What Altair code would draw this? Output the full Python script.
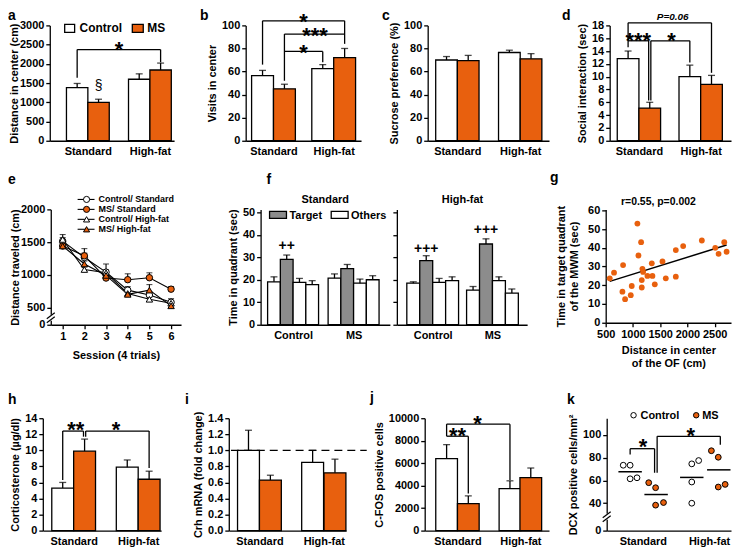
import altair as alt
import pandas as pd

FONT = "Liberation Sans"
ORANGE = "#E8600E"
GRAY = "#8C8C8C"
WHITE = "#FFFFFF"
LW = 1.3
STAR = 22
STAR_DY = 12

# ---------------- data ----------------
groups = ["Control", "MS", "Control", "MS"]

a_mean = [1380, 1000, 1600, 1840]
a_top = [1490, 1080, 1740, 2020]
b_mean = [56.5, 45, 62.5, 72]
b_top = [61, 49, 66, 80]
c_mean = [70, 69.5, 76.5, 71]
c_top = [73, 74, 78.5, 75.5]
d_mean = [12.8, 5.1, 10.0, 8.8]
d_top = [14.0, 6.0, 11.8, 10.2]

sessions = [1, 2, 3, 4, 5, 6]
e_labels = ["Control/ Standard", "MS/ Standard", "Control/ High-fat", "MS/ High-fat"]
e_ctrl_std = [1515, 1265, 1040, 765, 690, 580]
e_ms_std = [1440, 1290, 950, 925, 955, 780]
e_ctrl_hf = [1540, 1080, 1030, 715, 625, 565]
e_ms_hf = [1440, 1165, 990, 700, 765, 525]
e_ctrl_std_top = [1570, 1330, 1165, 820, 735, 635]
e_ms_std_top = [1480, 1400, 990, 1015, 1030, 820]
e_ctrl_hf_top = [1615, 1120, 1075, 760, 665, 600]
e_ms_hf_top = [1480, 1210, 1030, 740, 850, 560]

quadrants = ["Others", "Target", "Others", "Others"]
f_std_ctrl = [19.1, 29.1, 18.8, 17.8]
f_std_ms = [20.7, 25.0, 18.5, 20.0]
f_hf_ctrl = [18.5, 28.5, 18.8, 19.6]
f_hf_ms = [15.4, 35.9, 19.6, 14.1]
f_std_ctrl_top = [21.3, 31.0, 20.6, 19.6]
f_std_ms_top = [22.6, 26.8, 20.3, 21.8]
f_hf_ctrl_top = [19.1, 30.7, 20.6, 21.3]
f_hf_ms_top = [17.0, 38.2, 21.3, 15.9]

g_dist = [574, 653, 819, 807, 856, 960, 978, 1082, 1101, 1150, 1174, 1187, 1162, 1162,
          1266, 1346, 1358, 1401, 1542, 1603, 1787, 1787, 1922, 2265, 2511, 2572, 2676, 2719]
g_time = [23.7, 26.7, 30.8, 16.6, 12.6, 14.7, 19.6, 52.9, 35.9, 43.0, 28.8, 27.1, 22.8, 18.8,
          25.0, 31.7, 25.0, 20.5, 32.7, 23.7, 38.8, 24.6, 40.9, 43.9, 40.0, 36.8, 43.0, 37.9]

h_mean = [5.3, 9.9, 7.9, 6.4]
h_top = [6.0, 11.4, 8.8, 7.4]
i_mean = [1.0, 0.63, 0.85, 0.72]
i_top = [1.25, 0.69, 1.0, 0.89]
j_mean = [6400, 2400, 3730, 4720]
j_top = [7650, 3090, 4430, 5570]

k_ctrl_std = [73.3, 73.3, 61.4, 62.3]
k_ms_std = [58.0, 53.6, 38.3, 40.6]
k_ctrl_hf = [74.5, 77.4, 58.6, 40.0]
k_ms_hf = [86.0, 80.3, 54.2, 56.5]
k_x_ctrl_std = [0.73, 1.0, 1.0, 1.27]
k_x_ms_std = [1.73, 2.0, 2.0, 2.31]
k_x_ctrl_hf = [3.42, 3.69, 3.42, 3.42]
k_x_ms_hf = [4.19, 4.46, 4.46, 4.73]
k_centers = [1.0, 2.02, 3.42, 4.48]

group_fills = [WHITE if g == "Control" else ORANGE for g in groups]
quad_fills = [GRAY if q == "Target" else WHITE for q in quadrants]


# ---------------- helpers ----------------
def sc(dom):
    return alt.Scale(domain=dom, nice=False, zero=False)


def yax(values, **kw):
    return alt.Axis(values=values, tickCount=len(values), labelOverlap=False, **kw)


def bar_df(means, tops, centers, fills):
    return pd.DataFrame({
        "c": centers,
        "x0": [c - 0.5 for c in centers],
        "x1": [c + 0.5 for c in centers],
        "m": means, "t": tops, "z": [0] * len(means), "fill": fills,
    })


def bar_layers(df, xs, ys, xaxis, yaxis, ytitle):
    base = alt.Chart(df)
    bars = base.mark_bar(stroke="black", strokeWidth=LW).encode(
        x=alt.X("x0:Q", scale=xs, axis=xaxis, title=None),
        x2="x1:Q",
        y=alt.Y("m:Q", scale=ys, axis=yaxis, title=ytitle),
        y2="z:Q",
        fill=alt.Fill("fill:N", scale=None),
    )
    whisk = base.mark_rule(color="black", strokeWidth=LW).encode(
        x=alt.X("c:Q", scale=xs), y=alt.Y("m:Q", scale=ys), y2="t:Q")
    cap = base.mark_tick(orient="horizontal", size=7, thickness=LW, color="black").encode(
        x=alt.X("c:Q", scale=xs), y=alt.Y("t:Q", scale=ys))
    return [bars, whisk, cap]


def bracket_layer(specs, xs, ys, dash=None):
    rows = []
    for xl, xr, yb, yl, yr in specs:
        rows.append({"x": xl, "x2": xr, "y": yb, "y2": yb})
        if yl is not None:
            rows.append({"x": xl, "x2": xl, "y": yb, "y2": yl})
        if yr is not None:
            rows.append({"x": xr, "x2": xr, "y": yb, "y2": yr})
    kw = dict(color="black", strokeWidth=LW)
    if dash:
        kw["strokeDash"] = dash
    return alt.Chart(pd.DataFrame(rows)).mark_rule(**kw).encode(
        x=alt.X("x:Q", scale=xs), x2="x2:Q", y=alt.Y("y:Q", scale=ys), y2="y2:Q")


def data_text(items, xs, ys, size=STAR, dy=STAR_DY, italic=False, weight="bold"):
    df = pd.DataFrame(items, columns=["x", "y", "s"])
    return alt.Chart(df).mark_text(
        font=FONT, fontSize=size, fontWeight=weight,
        fontStyle="italic" if italic else "normal",
        align="center", baseline="alphabetic", dy=dy, color="black",
    ).encode(x=alt.X("x:Q", scale=xs), y=alt.Y("y:Q", scale=ys), text="s:N")


def ptext(x, y, s, size=14, align="left", baseline="alphabetic", weight="bold"):
    return alt.Chart(pd.DataFrame({"s": [s]})).mark_text(
        font=FONT, fontSize=size, fontWeight=weight, align=align,
        baseline=baseline, color="black",
    ).encode(x=alt.value(x), y=alt.value(y), text="s:N")


def prect(x, x2, y, y2, fill, stroked=True):
    kw = dict(fill=fill, opacity=1)
    if stroked:
        kw.update(stroke="black", strokeWidth=LW)
    return alt.Chart(pd.DataFrame({"z": [0]})).mark_rect(**kw).encode(
        x=alt.value(x), x2=alt.value(x2), y=alt.value(y), y2=alt.value(y2))


def prule(x, x2, y, y2, width=LW, color="black"):
    return alt.Chart(pd.DataFrame({"z": [0]})).mark_rule(color=color, strokeWidth=width).encode(
        x=alt.value(x), x2=alt.value(x2), y=alt.value(y), y2=alt.value(y2))


def ppoint(x, y, shape, fill, size):
    return alt.Chart(pd.DataFrame({"z": [0]})).mark_point(
        shape=shape, filled=True, fill=fill, stroke="black", strokeWidth=1,
        size=size, opacity=1,
    ).encode(x=alt.value(x), y=alt.value(y))


def axis_break(yb):
    return [prect(-3, 3, yb - 3, yb + 3, WHITE, stroked=False),
            prule(-4, 4, yb + 1, yb - 5, 1.2),
            prule(-4, 4, yb + 5, yb - 1, 1.2)]


def spacer(w):
    return alt.Chart(pd.DataFrame({"z": [0]})).mark_point(opacity=0).encode(
        x=alt.value(0), y=alt.value(0)).properties(width=w, height=10)


DIET_EXPR = "datum.value < 3 ? 'Standard' : 'High-fat'"


def cat_axis(values, expr):
    return alt.Axis(values=values, tickCount=len(values), labelExpr=expr, ticks=False,
                    labelPadding=5, labelFlush=False, labelOverlap=False)


def std_panel(ytitle, means, tops, centers, xdom, ydom, yvals, w, h, fmt, extras, tpad=4):
    xs, ys = sc(xdom), sc(ydom)
    xa = cat_axis([(centers[0] + centers[1]) / 2, (centers[2] + centers[3]) / 2], DIET_EXPR)
    ya = yax(yvals, format=fmt, titlePadding=tpad)
    layers = bar_layers(bar_df(means, tops, centers, group_fills), xs, ys, xa, ya, ytitle)
    for e in extras:
        layers.append(e(xs, ys) if callable(e) else e)
    return alt.layer(*layers).properties(width=w, height=h)


# ---------------- row 1 ----------------
a_c = [1, 2, 3.9, 4.9]
A = std_panel(
    "Distance in center (cm)", a_mean, a_top, a_c, [-0.28, 5.53], [0, 3000],
    list(range(0, 3001, 500)), 125, 116, "d",
    [lambda xs, ys: bracket_layer([(1, 4.9, 2370, 1640, 2040)], xs, ys),
     lambda xs, ys: data_text([(2.95, 2480, "*")], xs, ys),
     lambda xs, ys: data_text([(2, 1420, "§")], xs, ys, size=14, dy=4, weight="normal"),
     prect(15, 25, -1, 7, WHITE), ptext(30, 7, "Control", 12),
     prect(83, 94, -1, 7, ORANGE), ptext(98, 7, "MS", 12),
     ptext(-42, -5, "a")], tpad=0)

b_c = [1, 2, 3.75, 4.75]
B = std_panel(
    "Visits in center", b_mean, b_top, b_c, [0.23, 5.5], [0, 100],
    list(range(0, 101, 20)), 116, 116, "d",
    [lambda xs, ys: bracket_layer([(1, 4.75, 104, 66, 84), (2, 4.75, 92.5, 52, None),
                                   (2, 3.75, 77.4, None, 68)], xs, ys),
     lambda xs, ys: data_text([(2.87, 107.5, "*"), (3.4, 95.5, "***"), (2.87, 80.5, "*")], xs, ys),
     ptext(-46, -5, "b")])

c_c = [1, 2, 3.9, 4.9]
C = std_panel(
    "Sucrose preference (%)", c_mean, c_top, c_c, [0.13, 5.73], [0, 100],
    list(range(0, 101, 20)), 122, 116, "d",
    [ptext(-46, -5, "c")])

d_c = [1, 2, 3.85, 4.85]
D = std_panel(
    "Social interaction (sec)", d_mean, d_top, d_c, [0.15, 5.75], [0, 18],
    list(range(0, 19, 2)), 122, 116, "d",
    [lambda xs, ys: bracket_layer([(1, 4.85, 18.4, 15.6, 10.6), (1, 1.95, 15.6, 14.6, 6.3),
                                   (2.05, 3.85, 15.6, 6.3, 12.2)], xs, ys),
     lambda xs, ys: data_text([(1.47, 16.4, "***"), (3.0, 16.4, "*")], xs, ys),
     lambda xs, ys: data_text([(3.06, 18.9, "P=0.06")], xs, ys, size=10, dy=0, italic=True),
     ptext(-48, -5, "d")])

# ---------------- row 2 ----------------
exs, eys = sc([0.45, 6.46]), sc([236, 2000])
e_rows = []
for name, vals, tops, fill, shape in zip(
        e_labels,
        [e_ctrl_std, e_ms_std, e_ctrl_hf, e_ms_hf],
        [e_ctrl_std_top, e_ms_std_top, e_ctrl_hf_top, e_ms_hf_top],
        [WHITE, ORANGE, WHITE, ORANGE],
        ["circle", "circle", "triangle-up", "triangle-up"]):
    for s, v, t in zip(sessions, vals, tops):
        e_rows.append({"series": name, "s": s, "v": v, "t": t, "fill": fill, "shape": shape})
edf = pd.DataFrame(e_rows)
ebase = alt.Chart(edf)
e_layers = [
    ebase.mark_line(color="black", strokeWidth=1.1).encode(
        x=alt.X("s:Q", scale=exs, title="Session (4 trials)",
                axis=yax(sessions, labelFlush=False, titlePadding=8)),
        y=alt.Y("v:Q", scale=eys, title="Distance traveled (cm)",
                axis=yax([236, 500, 1000, 1500, 2000], titlePadding=0,
                         labelExpr="datum.value < 400 ? '0' : datum.value")),
        detail="series:N"),
    ebase.mark_rule(color="black", strokeWidth=1.1).encode(
        x=alt.X("s:Q", scale=exs), y=alt.Y("v:Q", scale=eys), y2="t:Q"),
    ebase.mark_tick(orient="horizontal", size=6, thickness=1.1, color="black").encode(
        x=alt.X("s:Q", scale=exs), y=alt.Y("t:Q", scale=eys)),
    ebase.mark_point(filled=True, stroke="black", strokeWidth=1, size=42, opacity=1).encode(
        x=alt.X("s:Q", scale=exs), y=alt.Y("v:Q", scale=eys),
        fill=alt.Fill("fill:N", scale=None), shape=alt.Shape("shape:N", scale=None)),
]
for idx, (lab, fill, shape) in enumerate(zip(
        e_labels, [WHITE, ORANGE, WHITE, ORANGE],
        ["circle", "circle", "triangle-up", "triangle-up"])):
    yy = -10 + 10 * idx
    e_layers += [prule(27, 44, yy, yy, 1.1), ppoint(36, yy, shape, fill, 38),
                 ptext(48, yy, lab, 9, baseline="middle")]
e_layers += axis_break(109)
e_layers.append(ptext(-43, -26, "e"))
E = alt.layer(*e_layers).properties(width=131, height=116)


def quad_panel(vals_c, vals_m, tops_c, tops_m, centers, xdom, w, show_y, extras):
    xs, ys = sc(xdom), sc([0, 51.3])
    df = bar_df(vals_c + vals_m, tops_c + tops_m, centers, quad_fills + quad_fills)
    xa = cat_axis([sum(centers[:4]) / 4, sum(centers[4:]) / 4],
                  "datum.value < 5 ? 'Control' : 'MS'")
    if show_y:
        ya = yax(list(range(0, 51, 10)), format="d")
        yt = "Time in quadrant (sec)"
    else:
        ya = yax(list(range(0, 51, 10)), labels=False)
        yt = None
    layers = bar_layers(df, xs, ys, xa, ya, yt)
    for e in extras:
        layers.append(e(xs, ys) if callable(e) else e)
    return alt.layer(*layers).properties(width=w, height=116)


FL = quad_panel(
    f_std_ctrl, f_std_ms, f_std_ctrl_top, f_std_ms_top,
    [1, 2, 3, 4, 5.75, 6.75, 7.75, 8.75], [-0.05, 10.1], 130, True,
    [lambda xs, ys: data_text([(2, 35.5, "++")], xs, ys, size=14, dy=5),
     prect(9, 26, 2, 9, GRAY), ptext(29, 10, "Target", 11),
     prect(71, 88, 2, 9, WHITE), ptext(91, 10, "Others", 11),
     ptext(65, -6, "Standard", 11, align="center"),
     ptext(6, -26, "f")])

FR = quad_panel(
    f_hf_ctrl, f_hf_ms, f_hf_ctrl_top, f_hf_ms_top,
    [1, 2, 3, 4, 5.62, 6.62, 7.62, 8.62], [-0.27, 9.8], 131, False,
    [lambda xs, ys: data_text([(2, 34.3, "+++"), (6.62, 42.5, "+++")], xs, ys, size=14, dy=5),
     ptext(66, -6, "High-fat", 11, align="center")])

gxs, gys = sc([500, 2800]), sc([0, 60.5])
gdf = pd.DataFrame({"d": g_dist, "t": g_time})
G = alt.layer(
    alt.Chart(gdf).transform_regression("d", "t").mark_line(color="black", strokeWidth=1.5).encode(
        x=alt.X("d:Q", scale=gxs, title=["Distance in center", "of the OF (cm)"],
                axis=yax([500, 1000, 1500, 2000, 2500], format="d",
                         labelFlush=False, titlePadding=5)),
        y=alt.Y("t:Q", scale=gys, title=["Time in target quadrant", "of the MWM (sec)"],
                axis=yax(list(range(0, 61, 10)), format="d", titlePadding=8))),
    alt.Chart(gdf).mark_circle(size=34, color=ORANGE, opacity=1).encode(
        x=alt.X("d:Q", scale=gxs), y=alt.Y("t:Q", scale=gys)),
    ptext(53, -4, "r=0.55, p=0.002", 10.5, align="center"),
    ptext(-56, -28, "g"),
    prule(-2, -2, 150, 168, 1, WHITE),
).properties(width=126, height=114)

# ---------------- row 3 ----------------
h_c = [1, 2, 3.95, 4.95]
H = std_panel(
    "Corticosterone (µg/dl)", h_mean, h_top, h_c, [0.09, 5.5], [0, 14],
    list(range(0, 15, 2)), 119, 113, "d",
    [lambda xs, ys: bracket_layer([(1, 1.95, 12.4, 6.3, 11.7), (2.05, 4.95, 12.4, 11.7, 7.8)], xs, ys),
     lambda xs, ys: data_text([(1.6, 13.2, "**"), (3.44, 13.2, "*")], xs, ys),
     ptext(-35, -14, "h")])

i_c = [1, 2, 3.93, 4.95]
I = std_panel(
    "Crh mRNA (fold change)", i_mean, i_top, i_c, [0.1, 5.46], [0, 1.4],
    [round(0.2 * k, 1) for k in range(8)], 118, 113, ".1f",
    [lambda xs, ys: bracket_layer([(0.2, 6.4, 1.0, None, None)], xs, ys, dash=[8, 5]),
     ptext(-44, -14, "i")])

j_c = [1, 2, 3.92, 4.88]
J = std_panel(
    "C-FOS positive cells", j_mean, j_top, j_c, [-0.01, 5.72], [0, 10000],
    list(range(0, 10001, 2000)), 125, 113, "d",
    [lambda xs, ys: bracket_layer([(1, 3.92, 9475, 8400, 4500), (1, 2, 8400, None, 3300)], xs, ys),
     lambda xs, ys: data_text([(2.42, 9900, "*"), (1.5, 8850, "**")], xs, ys),
     ptext(-55, -16, "j")])

kxs, kys = sc([0.08, 4.96]), sc([16, 114.5])
k_rows = []
for vals, xsj, gc, fill in zip([k_ctrl_std, k_ms_std, k_ctrl_hf, k_ms_hf],
                               [k_x_ctrl_std, k_x_ms_std, k_x_ctrl_hf, k_x_ms_hf],
                               k_centers, [WHITE, ORANGE, WHITE, ORANGE]):
    for v, xx in zip(vals, xsj):
        k_rows.append({"x": xx, "v": v, "gc": gc, "fill": fill})
kdf = pd.DataFrame(k_rows)
K = alt.layer(
    alt.Chart(kdf).transform_aggregate(mv="mean(v)", groupby=["gc"]).transform_calculate(
        xa="datum.gc - 0.46", xb="datum.gc + 0.46").mark_rule(color="black", strokeWidth=1.5).encode(
        x=alt.X("xa:Q", scale=kxs, title=None, axis=cat_axis([1.5, 4.1], DIET_EXPR)),
        x2="xb:Q",
        y=alt.Y("mv:Q", scale=kys, title="DCX positive cells/mm²",
                axis=yax([16, 40, 60, 80, 100],
                         labelExpr="datum.value < 20 ? '0' : datum.value"))),
    alt.Chart(kdf).mark_point(filled=True, size=34, stroke="black", strokeWidth=1, opacity=1).encode(
        x=alt.X("x:Q", scale=kxs), y=alt.Y("v:Q", scale=kys), fill=alt.Fill("fill:N", scale=None)),
    bracket_layer([(1, 1.96, 87.8, 82.6, 66.7), (2.06, 4.54, 98.6, 66.7, 91.3)], kxs, kys),
    data_text([(1.51, 93.3, "*"), (3.38, 102.9, "*")], kxs, kys),
    ppoint(27, -3, "circle", WHITE, 30), ptext(34, 1, "Control", 11),
    ppoint(90, -3, "circle", ORANGE, 30), ptext(96, 1, "MS", 11),
    *axis_break(99),
    ptext(-40, -14, "k"),
).properties(width=125, height=113)

# ---------------- layout ----------------
row1 = alt.hconcat(spacer(7), A, spacer(72), B, spacer(67), C, spacer(61), D, spacing=0, bounds="flush")
row2 = alt.hconcat(spacer(8), E, spacer(80), FL, spacer(7), FR, spacer(79), G, spacing=0, bounds="flush")
row3 = alt.hconcat(H, spacer(68), I, spacer(79), J, spacer(58), K, spacing=0, bounds="flush")

chart = alt.vconcat(row1, row2, row3, spacing=14).properties(padding=0).configure_view(
    stroke=None
).configure_axis(
    labelFont=FONT, titleFont=FONT, labelFontSize=11, titleFontSize=11,
    labelFontWeight="bold", titleFontWeight="bold", labelColor="black", titleColor="black",
    domainColor="black", tickColor="black", domainWidth=LW, tickWidth=LW, tickSize=4,
    grid=False, labelPadding=2, titlePadding=4, labelOverlap=False,
)

chart.save("out.html", embed_options={"renderer": "svg", "actions": False})
